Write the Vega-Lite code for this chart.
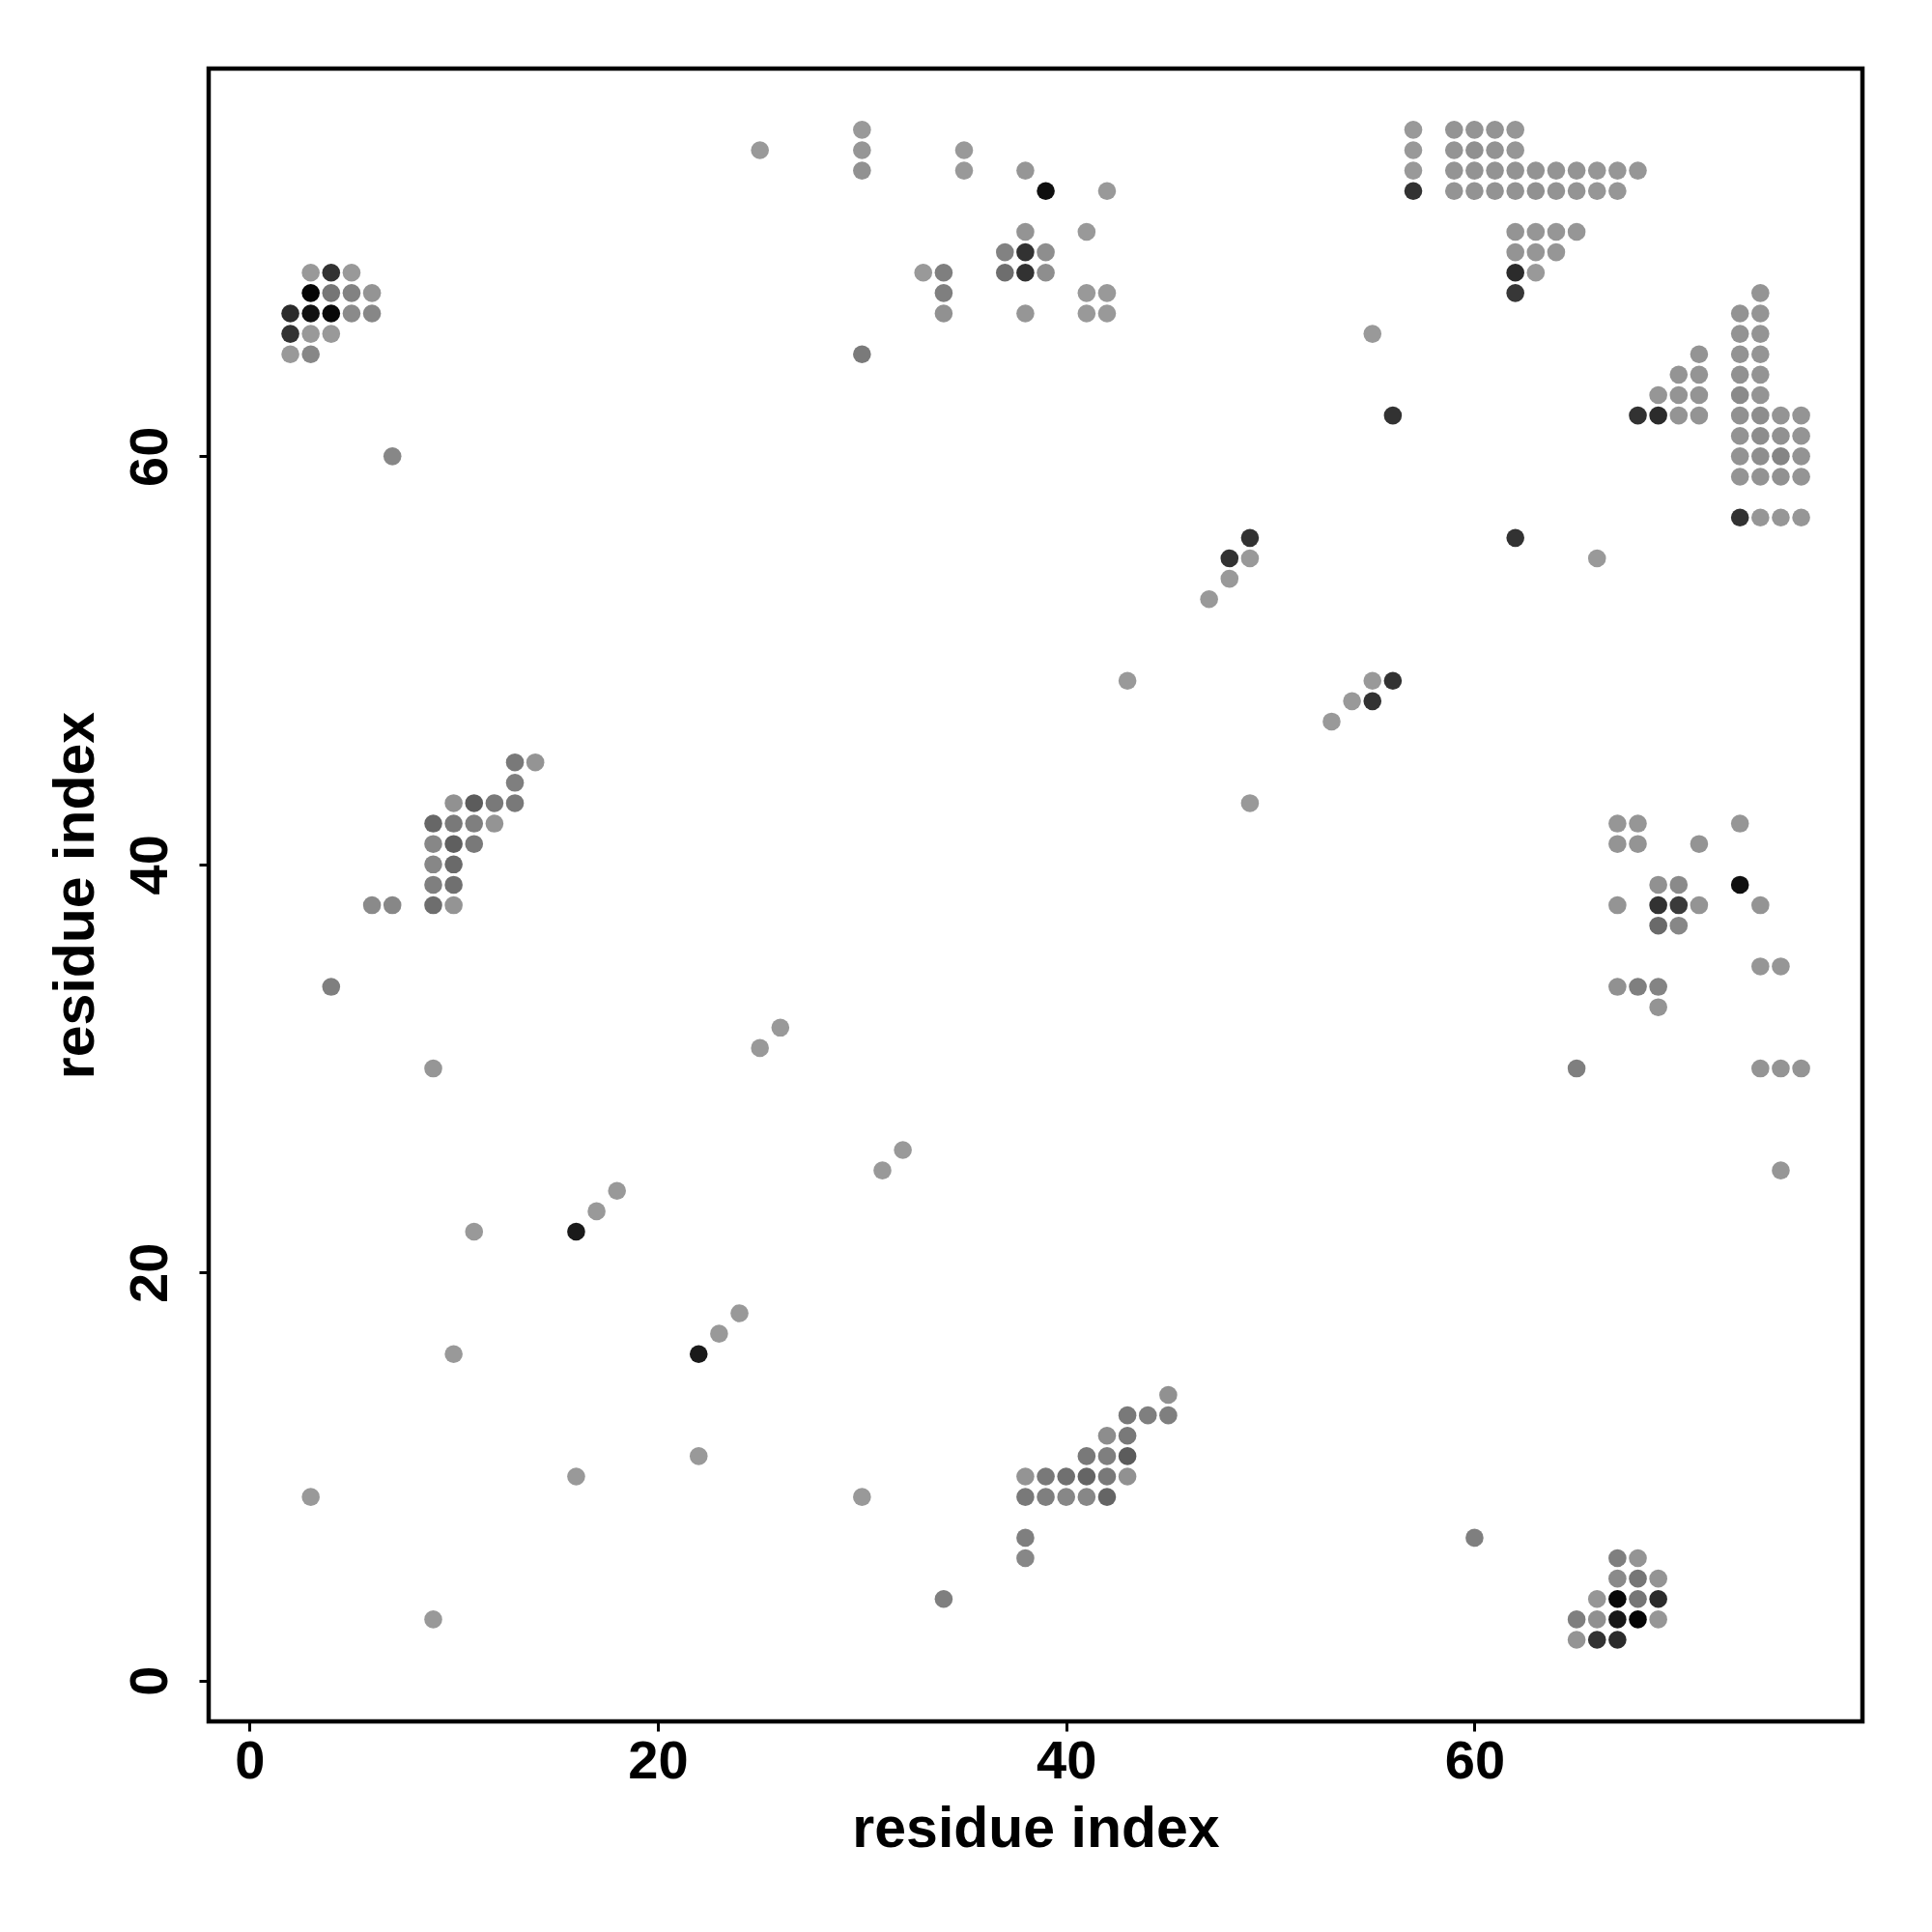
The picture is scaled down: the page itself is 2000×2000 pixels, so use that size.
{
  "$schema": "https://vega.github.io/schema/vega-lite/v6.json",
  "autosize": {"type": "none"},
  "width": 1712,
  "height": 1711,
  "padding": {"left": 216, "top": 71, "right": 72, "bottom": 218},
  "background": "white",
  "config": {
    "view": {"stroke": "black", "strokeWidth": 4.5},
    "axis": {
      "labelFont": "Liberation Sans", "labelFontWeight": "bold", "labelFontSize": 56, "labelColor": "black",
      "titleFont": "Liberation Sans", "titleFontWeight": "bold", "titleFontSize": 59, "titleColor": "black",
      "grid": false, "domain": false, "tickColor": "black", "tickWidth": 3, "tickSize": 10
    }
  },
  "data": {"values": [
    {"x":3,"y":69,"s":0},{"x":4,"y":69,"s":0.67},{"x":5,"y":69,"s":0},
    {"x":3,"y":68,"s":0.96},{"x":4,"y":68,"s":0.23},{"x":5,"y":68,"s":0.15},{"x":6,"y":68,"s":0.03},
    {"x":2,"y":67,"s":0.72},{"x":3,"y":67,"s":0.89},{"x":4,"y":67,"s":0.95},{"x":5,"y":67,"s":0.1},{"x":6,"y":67,"s":0.12},
    {"x":2,"y":66,"s":0.67},{"x":3,"y":66,"s":0},{"x":4,"y":66,"s":0},
    {"x":2,"y":65,"s":0},{"x":3,"y":65,"s":0.12},
    {"x":7,"y":60,"s":0.12},
    {"x":25,"y":75,"s":0},{"x":30,"y":76,"s":0},{"x":30,"y":75,"s":0.02},{"x":30,"y":74,"s":0.05},
    {"x":35,"y":75,"s":0},{"x":35,"y":74,"s":0},
    {"x":38,"y":74,"s":0.02},{"x":39,"y":73,"s":0.9},{"x":42,"y":73,"s":0},{"x":38,"y":71,"s":0.03},{"x":41,"y":71,"s":0},
    {"x":37,"y":70,"s":0.15},{"x":38,"y":70,"s":0.67},{"x":39,"y":70,"s":0.07},
    {"x":33,"y":69,"s":0},{"x":34,"y":69,"s":0.17},{"x":37,"y":69,"s":0.28},{"x":38,"y":69,"s":0.67},{"x":39,"y":69,"s":0.07},
    {"x":34,"y":68,"s":0.17},{"x":34,"y":67,"s":0.05},{"x":38,"y":67,"s":0.02},
    {"x":41,"y":68,"s":0},{"x":42,"y":68,"s":0},{"x":41,"y":67,"s":0},{"x":42,"y":67,"s":0},
    {"x":30,"y":65,"s":0.2},
    {"x":57,"y":76,"s":0},{"x":57,"y":75,"s":0},{"x":57,"y":74,"s":0},{"x":57,"y":73,"s":0.67},
    {"x":59,"y":76,"s":0.03},{"x":60,"y":76,"s":0.03},{"x":61,"y":76,"s":0.03},{"x":62,"y":76,"s":0.02},
    {"x":59,"y":75,"s":0.03},{"x":60,"y":75,"s":0.06},{"x":61,"y":75,"s":0.04},{"x":62,"y":75,"s":0.02},
    {"x":59,"y":74,"s":0.03},{"x":60,"y":74,"s":0.04},{"x":61,"y":74,"s":0.04},{"x":62,"y":74,"s":0.04},{"x":63,"y":74,"s":0.04},
    {"x":64,"y":74,"s":0.03},{"x":65,"y":74,"s":0.03},{"x":66,"y":74,"s":0.02},{"x":67,"y":74,"s":0.02},{"x":68,"y":74,"s":0.02},
    {"x":59,"y":73,"s":0.03},{"x":60,"y":73,"s":0.04},{"x":61,"y":73,"s":0.04},{"x":62,"y":73,"s":0.04},{"x":63,"y":73,"s":0.05},
    {"x":64,"y":73,"s":0.04},{"x":65,"y":73,"s":0.03},{"x":66,"y":73,"s":0.02},{"x":67,"y":73,"s":0.02},
    {"x":62,"y":71,"s":0.03},{"x":63,"y":71,"s":0.02},{"x":64,"y":71,"s":0.02},{"x":65,"y":71,"s":0.02},
    {"x":62,"y":70,"s":0.03},{"x":63,"y":70,"s":0.02},{"x":64,"y":70,"s":0.02},
    {"x":62,"y":69,"s":0.72},{"x":63,"y":69,"s":0},{"x":62,"y":68,"s":0.64},
    {"x":55,"y":66,"s":0},{"x":56,"y":62,"s":0.67},{"x":62,"y":56,"s":0.67},{"x":66,"y":55,"s":0},
    {"x":74,"y":68,"s":0.03},
    {"x":73,"y":67,"s":0.04},{"x":74,"y":67,"s":0.03},
    {"x":73,"y":66,"s":0.04},{"x":74,"y":66,"s":0.03},
    {"x":71,"y":65,"s":0.03},{"x":73,"y":65,"s":0.04},{"x":74,"y":65,"s":0.03},
    {"x":70,"y":64,"s":0.03},{"x":71,"y":64,"s":0.03},{"x":73,"y":64,"s":0.05},{"x":74,"y":64,"s":0.03},
    {"x":69,"y":63,"s":0.02},{"x":70,"y":63,"s":0.03},{"x":71,"y":63,"s":0.03},{"x":73,"y":63,"s":0.1},{"x":74,"y":63,"s":0.03},
    {"x":68,"y":62,"s":0.67},{"x":69,"y":62,"s":0.72},{"x":70,"y":62,"s":0.03},{"x":71,"y":62,"s":0.03},
    {"x":73,"y":62,"s":0.05},{"x":74,"y":62,"s":0.08},{"x":75,"y":62,"s":0.03},{"x":76,"y":62,"s":0.03},
    {"x":73,"y":61,"s":0.04},{"x":74,"y":61,"s":0.08},{"x":75,"y":61,"s":0.05},{"x":76,"y":61,"s":0.03},
    {"x":73,"y":60,"s":0.04},{"x":74,"y":60,"s":0.07},{"x":75,"y":60,"s":0.13},{"x":76,"y":60,"s":0.04},
    {"x":73,"y":59,"s":0.03},{"x":74,"y":59,"s":0.04},{"x":75,"y":59,"s":0.05},{"x":76,"y":59,"s":0.03},
    {"x":73,"y":57,"s":0.67},{"x":74,"y":57,"s":0.02},{"x":75,"y":57,"s":0.02},{"x":76,"y":57,"s":0.02},
    {"x":49,"y":56,"s":0.67},{"x":48,"y":55,"s":0.67},{"x":49,"y":55,"s":0},{"x":48,"y":54,"s":0},{"x":47,"y":53,"s":0},
    {"x":43,"y":49,"s":0},{"x":55,"y":49,"s":0},{"x":56,"y":49,"s":0.67},{"x":54,"y":48,"s":0},{"x":55,"y":48,"s":0.67},{"x":53,"y":47,"s":0},
    {"x":49,"y":43,"s":0},
    {"x":13,"y":45,"s":0.21},{"x":14,"y":45,"s":0.03},
    {"x":13,"y":44,"s":0.17},
    {"x":10,"y":43,"s":0.05},{"x":11,"y":43,"s":0.4},{"x":12,"y":43,"s":0.21},{"x":13,"y":43,"s":0.21},
    {"x":9,"y":42,"s":0.33},{"x":10,"y":42,"s":0.21},{"x":11,"y":42,"s":0.17},{"x":12,"y":42,"s":0.03},
    {"x":9,"y":41,"s":0.12},{"x":10,"y":41,"s":0.38},{"x":11,"y":41,"s":0.21},
    {"x":9,"y":40,"s":0.12},{"x":10,"y":40,"s":0.31},
    {"x":9,"y":39,"s":0.17},{"x":10,"y":39,"s":0.27},
    {"x":6,"y":38,"s":0.1},{"x":7,"y":38,"s":0.12},{"x":9,"y":38,"s":0.28},{"x":10,"y":38,"s":0.03},
    {"x":4,"y":34,"s":0.17},{"x":9,"y":30,"s":0.02},
    {"x":25,"y":31,"s":0},{"x":26,"y":32,"s":0},{"x":31,"y":25,"s":0},{"x":32,"y":26,"s":0},
    {"x":67,"y":42,"s":0.02},{"x":68,"y":42,"s":0.02},{"x":73,"y":42,"s":0.02},
    {"x":67,"y":41,"s":0.03},{"x":68,"y":41,"s":0.03},{"x":71,"y":41,"s":0.03},
    {"x":69,"y":39,"s":0.05},{"x":70,"y":39,"s":0.1},{"x":73,"y":39,"s":0.9},
    {"x":67,"y":38,"s":0.03},{"x":69,"y":38,"s":0.67},{"x":70,"y":38,"s":0.62},{"x":71,"y":38,"s":0.03},{"x":74,"y":38,"s":0.03},
    {"x":69,"y":37,"s":0.31},{"x":70,"y":37,"s":0.12},
    {"x":74,"y":35,"s":0.02},{"x":75,"y":35,"s":0.02},
    {"x":67,"y":34,"s":0.05},{"x":68,"y":34,"s":0.17},{"x":69,"y":34,"s":0.14},
    {"x":69,"y":33,"s":0.03},
    {"x":65,"y":30,"s":0.17},{"x":74,"y":30,"s":0.03},{"x":75,"y":30,"s":0.03},{"x":76,"y":30,"s":0.03},
    {"x":75,"y":25,"s":0.02},
    {"x":18,"y":24,"s":0},{"x":17,"y":23,"s":0},{"x":16,"y":22,"s":0.83},{"x":11,"y":22,"s":0},
    {"x":10,"y":16,"s":0},{"x":16,"y":10,"s":0},{"x":3,"y":9,"s":0},{"x":9,"y":3,"s":0},
    {"x":24,"y":18,"s":0},{"x":23,"y":17,"s":0},{"x":22,"y":16,"s":0.83},{"x":22,"y":11,"s":0},
    {"x":30,"y":9,"s":0},{"x":34,"y":4,"s":0.17},
    {"x":38,"y":10,"s":0.03},{"x":39,"y":10,"s":0.21},{"x":40,"y":10,"s":0.27},{"x":41,"y":10,"s":0.34},{"x":42,"y":10,"s":0.21},{"x":43,"y":10,"s":0.05},
    {"x":38,"y":9,"s":0.21},{"x":39,"y":9,"s":0.17},{"x":40,"y":9,"s":0.12},{"x":41,"y":9,"s":0.12},{"x":42,"y":9,"s":0.34},
    {"x":41,"y":11,"s":0.21},{"x":42,"y":11,"s":0.17},{"x":43,"y":11,"s":0.4},
    {"x":42,"y":12,"s":0.08},{"x":43,"y":12,"s":0.21},
    {"x":43,"y":13,"s":0.21},{"x":44,"y":13,"s":0.17},{"x":45,"y":13,"s":0.17},
    {"x":45,"y":14,"s":0.05},
    {"x":38,"y":7,"s":0.17},{"x":38,"y":6,"s":0.12},
    {"x":60,"y":7,"s":0.17},
    {"x":67,"y":6,"s":0.17},{"x":68,"y":6,"s":0.03},
    {"x":67,"y":5,"s":0.1},{"x":68,"y":5,"s":0.23},{"x":69,"y":5,"s":0.03},
    {"x":66,"y":4,"s":0.02},{"x":67,"y":4,"s":0.95},{"x":68,"y":4,"s":0.23},{"x":69,"y":4,"s":0.72},
    {"x":65,"y":3,"s":0.17},{"x":66,"y":3,"s":0.06},{"x":67,"y":3,"s":0.85},{"x":68,"y":3,"s":0.97},{"x":69,"y":3,"s":0.02},
    {"x":65,"y":2,"s":0.03},{"x":66,"y":2,"s":0.67},{"x":67,"y":2,"s":0.72}
  ]},
  "mark": {"type": "circle", "size": 346, "opacity": 1},
  "encoding": {
    "x": {"field": "x", "type": "quantitative",
      "scale": {"domain": [-2, 79], "nice": false, "zero": false},
      "axis": {"values": [0, 20, 40, 60], "title": "residue index", "labelBaseline": "alphabetic", "labelPadding": 48,
        "titleBaseline": "alphabetic", "titleY": 129}},
    "y": {"field": "y", "type": "quantitative",
      "scale": {"domain": [-2, 79], "nice": false, "zero": false},
      "axis": {"values": [0, 20, 40, 60], "title": "residue index", "labelAngle": -90, "labelAlign": "center", "labelBaseline": "alphabetic", "labelPadding": 34,
        "titleAngle": -90, "titleBaseline": "alphabetic", "titleX": -120}},
    "color": {"field": "s", "type": "quantitative",
      "scale": {"domain": [0, 1], "range": ["#999999", "#000000"], "interpolate": "rgb"},
      "legend": null}
  }
}
